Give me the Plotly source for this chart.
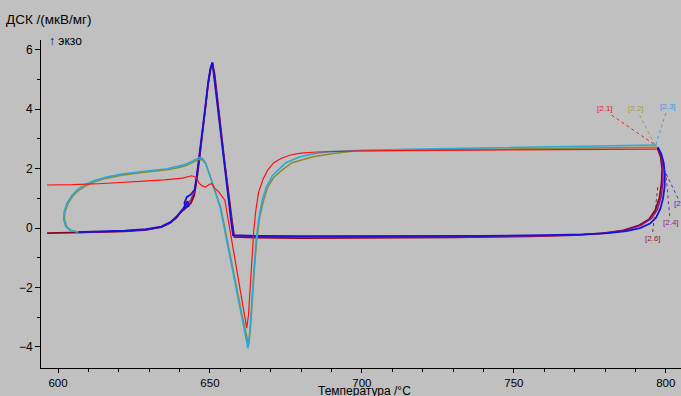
import plotly.graph_objects as go

# ---- data (temperature °C, DSC µV/mg) ----
red_x = [596.4, 605, 615, 625, 635, 641, 644, 645.5, 646.5, 647.5, 648.5, 649.5, 650.5, 651.5, 653, 654.9,
         656.5, 658.3, 660.2, 661.3, 662.1, 662.7, 663.2, 663.8, 664.4, 665.1, 666, 667.5, 669, 671, 673.5,
         676.5, 680, 685, 700, 750, 797]
red_y = [1.45, 1.46, 1.5, 1.55, 1.62, 1.68, 1.76, 1.7, 1.5, 1.42, 1.38, 1.45, 1.5, 1.35, 1.2, 0.94,
         0.0, -1.0, -2.2, -2.9, -3.37, -2.9, -2.0, -1.0, -0.1, 0.6, 1.2, 1.65, 1.95, 2.2, 2.35,
         2.46, 2.52, 2.56, 2.6, 2.63, 2.66]

cyan_x = [606.5, 604, 602.5, 601.8, 602, 603, 604.5, 606.5, 609, 612, 616, 621, 627, 632, 636, 639, 642,
          644.5, 646.5, 647.5, 648.5, 650, 651.5, 653.3, 654.7, 656.6, 658.5, 660.5, 661.8, 662.5, 663.1,
          663.7, 664.4, 665.1, 666, 667.2, 668.5, 670.5, 672.4, 675, 679.6, 685, 690, 700, 720, 740, 760,
          780, 797]
cyan_y = [-0.13, -0.08, 0.05, 0.3, 0.55, 0.85, 1.1, 1.3, 1.47, 1.6, 1.72, 1.82, 1.9, 1.95, 2.0, 2.07, 2.15,
          2.27, 2.37, 2.35, 2.2, 1.75, 1.3, 0.72, 0.0, -1.0, -2.0, -3.0, -3.7, -4.05, -3.5,
          -2.5, -1.5, -0.5, 0.3, 0.94, 1.38, 1.75, 1.95, 2.2, 2.4, 2.52, 2.58, 2.62, 2.66, 2.7, 2.73,
          2.76, 2.8]

olive_x = [606.8, 604.3, 602.8, 602.1, 602.3, 603.3, 604.8, 606.8, 609.3, 612, 616, 621, 627, 632, 636, 639,
           642, 644.5, 646.5, 647.5, 648.7, 650.2, 651.7, 653.5, 654.9, 656.8, 658.7, 660.7, 662, 662.7,
           663.3, 663.9, 664.6, 665.4, 666.4, 667.7, 669, 671, 673.7, 677, 683.9, 690, 698, 720, 740, 760,
           780, 797]
olive_y = [-0.13, -0.08, 0.05, 0.3, 0.55, 0.83, 1.07, 1.27, 1.43, 1.56, 1.68, 1.78, 1.86, 1.91, 1.96, 2.02,
           2.1, 2.22, 2.31, 2.3, 2.15, 1.7, 1.25, 0.7, 0.0, -1.0, -2.0, -3.0, -3.6, -3.95, -3.4,
           -2.4, -1.4, -0.4, 0.4, 0.95, 1.38, 1.7, 1.95, 2.2, 2.4, 2.5, 2.6, 2.63, 2.66, 2.68, 2.7,
           2.72, 2.73]

blue_x = [797.4, 798.5, 799.3, 799.7, 799.6, 799.1, 798.2, 796.8, 794.8, 791.5, 787, 781, 773, 760, 740,
          720, 700, 680, 665, 657.6, 657.0, 656.2, 655.5, 654.5, 653.3, 652.2, 651.4, 650.8, 650.2, 649.4,
          648.5, 647.5, 646.5, 645.7, 645, 643.6, 642.4, 641.6, 641.9, 643.0, 642.6, 641, 639, 637, 634,
          629, 622, 614, 606]
blue_y = [2.72, 2.5, 2.2, 1.8, 1.4, 1.0, 0.65, 0.35, 0.15, 0.0, -0.1, -0.17, -0.21, -0.24, -0.26,
          -0.27, -0.27, -0.27, -0.26, -0.24, 0.2, 0.9, 1.6, 2.4, 3.5, 4.5, 5.2, 5.58, 5.4, 4.9,
          4.1, 3.2, 2.4, 1.8, 1.3, 1.12, 1.05, 0.85, 0.68, 0.75, 0.9, 0.62, 0.38, 0.2, 0.05,
          -0.04, -0.09, -0.12, -0.14]

darkred_x = [797.2, 798.3, 798.8, 798.6, 797.9, 796.5, 794.5, 791, 786, 779, 770, 755, 730, 700, 680,
             665, 658, 657.3, 656.4, 655.6, 654.6, 653.4, 652.3, 651.5, 650.8, 650.2, 649.4, 648.5, 647.5,
             646.5, 645.6, 644.8, 643.8, 642.5, 641.5, 640.5, 639, 637, 634, 629, 622, 612, 604, 596.4]
darkred_y = [2.7, 2.4, 2.0, 1.5, 1.0, 0.6, 0.3, 0.08, -0.08, -0.18, -0.24, -0.28, -0.31, -0.33, -0.34,
             -0.32, -0.3, 0.2, 0.9, 1.6, 2.4, 3.5, 4.5, 5.2, 5.55, 5.35, 4.85, 4.0, 3.1,
             2.3, 1.6, 1.1, 0.85, 0.7, 0.62, 0.55, 0.35, 0.18, 0.03, -0.06, -0.11, -0.14, -0.16, -0.17]

purple_x = [797.3, 798.4, 799.0, 799.1, 798.5, 797.2, 795.3, 792, 787, 780, 771, 757, 735, 700, 680,
            665, 657.8, 657.1, 656.3, 655.5, 654.5, 653.3, 652.2, 651.4, 650.8, 650.2, 649.4, 648.5,
            647.5, 646.5, 645.6, 644.8, 643.7, 642.3, 641.3, 640.3, 638.8, 637, 634, 629, 622, 614, 606]
purple_y = [2.71, 2.45, 2.1, 1.6, 1.05, 0.62, 0.32, 0.1, -0.07, -0.17, -0.23, -0.27, -0.29, -0.3, -0.3,
            -0.29, -0.27, 0.2, 0.9, 1.6, 2.4, 3.5, 4.5, 5.2, 5.56, 5.38, 4.88, 4.05, 3.15, 2.35, 1.7,
            1.2, 0.95, 0.8, 0.68, 0.55, 0.36, 0.19, 0.04, -0.05, -0.1, -0.13, -0.15]

x_ticks = [600, 650, 700, 750, 800]
y_ticks = [-4, -2, 0, 2, 4, 6]

labels = ["[2.1]", "[2.2]", "[2.3]", "[2.6]", "[2.4]", "[2.5]"]
label_x = [779.9, 790.1, 800.7, 795.7, 801.6, 801.9]
label_y = [4.04, 4.04, 4.1, -0.34, 0.2, 0.84]
label_anchor = ["center", "center", "center", "center", "center", "left"]
lead_x0 = [782.2, 791.4, 800.0, 795.7, 801.3, 804.0]
lead_y0 = [3.8, 3.8, 3.87, -0.13, 0.4, 1.0]
lead_x1 = [797.0, 796.4, 796.7, 797.4, 800.0, 799.3]
lead_y1 = [2.76, 2.8, 2.8, 1.41, 1.85, 2.0]

C_RED = "#ff1010"
C_OLIVE = "#8a8a30"
C_CYAN = "#2aa8d8"
C_BLUE = "#1a10d8"
C_DRED = "#880020"
C_PURP = "#8a1a8a"
label_colors = ["#e02030", "#a0a040", "#3a9ae0", "#902030", "#902090", "#3030e0"]

fig = go.Figure()
series = [
    (darkred_x, darkred_y, C_DRED, 1.8),
    (purple_x, purple_y, C_PURP, 1.4),
    (blue_x, blue_y, C_BLUE, 1.8),
    (olive_x, olive_y, C_OLIVE, 1.5),
    (cyan_x, cyan_y, C_CYAN, 1.5),
    (red_x, red_y, C_RED, 1.2),
]
for xs, ys, col, w in series:
    fig.add_trace(go.Scatter(x=xs, y=ys, mode="lines", line=dict(color=col, width=w),
                             showlegend=False, hoverinfo="skip"))

for i, t in enumerate(labels):
    fig.add_shape(type="line", x0=lead_x0[i], y0=lead_y0[i], x1=lead_x1[i], y1=lead_y1[i],
                  xref="x", yref="y", line=dict(color=label_colors[i], width=1, dash="dot"))
    fig.add_annotation(x=label_x[i], y=label_y[i], text=t, showarrow=False, xref="x", yref="y",
                       xanchor=label_anchor[i],
                       font=dict(size=8, color=label_colors[i], family="Liberation Sans"))

fig.add_annotation(x=-0.0578, y=1.061, xref="paper", yref="paper", text="ДСК /(мкВ/мг)",
                   showarrow=False, xanchor="left", yanchor="middle",
                   font=dict(size=13.5, color="#000000", family="Liberation Sans"))
fig.add_annotation(x=0.009, y=0.997, xref="paper", yref="paper", text="↑ экзо",
                   showarrow=False, xanchor="left", yanchor="middle",
                   font=dict(size=12, color="#000000", family="Liberation Sans"))
fig.add_annotation(x=0.506, y=-0.071, xref="paper", yref="paper", text="Температура /°C",
                   showarrow=False, xanchor="center", yanchor="middle",
                   font=dict(size=12, color="#000000", family="Liberation Sans"))

fig.update_layout(
    width=681, height=396,
    margin=dict(l=41, r=0, t=40, b=28),
    paper_bgcolor="#c0c0c0", plot_bgcolor="#c0c0c0",
    font=dict(family="Liberation Sans", size=12, color="#000000"),
    showlegend=False,
)
fig.update_xaxes(range=[594.4, 805], tickvals=x_ticks, ticks="outside", ticklen=4, tickcolor="#000",
                 showline=True, linecolor="#000", linewidth=1, showgrid=False, zeroline=False,
                 tickfont=dict(size=11.5),
                 minor=dict(dtick=10, tick0=600, ticks="outside", ticklen=3, tickcolor="#000", showgrid=False))
fig.update_yaxes(range=[-4.71, 6.33], tickvals=y_ticks, ticks="outside", ticklen=5, tickcolor="#000",
                 showline=True, linecolor="#000", linewidth=1, showgrid=False, zeroline=False,
                 minor=dict(dtick=1, tick0=0, ticks="outside", ticklen=3, tickcolor="#000", showgrid=False))

fig.write_html("out.html", config={"displayModeBar": False},
               post_script="document.body.style.margin='0';document.body.style.overflow='hidden';")
